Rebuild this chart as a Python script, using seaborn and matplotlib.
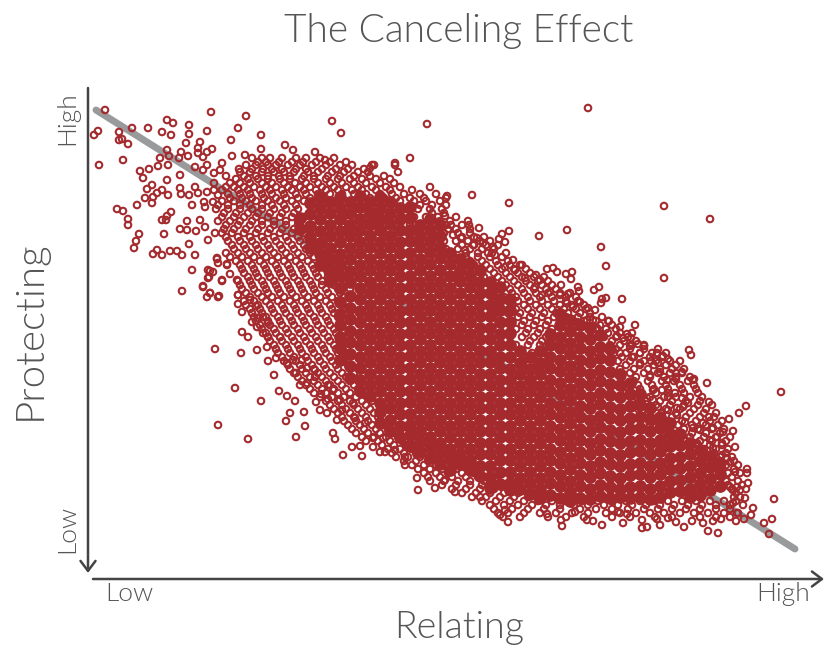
import pandas as pd
import matplotlib
matplotlib.use("Agg")
import matplotlib.pyplot as plt
import seaborn as sns

# values: x = left to right, y = rows counted down from the top
RED = "#a52a2d"
INK = "#555555"

title = "The Canceling Effect"
x_label = "Relating"
y_label = "Protecting"
low_label = "Low"
high_label = "High"

trend_x = [96, 795]
trend_y = [110, 549]

# single points that can be told apart
upper_left = [(105,110),(211,112),(246,116),(332,121),(98,131),(94,135),(119,132),(132,128),(148,128),(167,120),
    (173,123),(162,132),(171,135),(189,125),(189,134),(207,131),(238,128),(261,135),(231,140),(119,140),(122,139),
    (128,144),(99,165),(123,160),(186,143),(200,142),(198,148),(207,152),(212,149),(167,150),(181,152),(179,158),
    (188,156),(160,158),(169,156),(198,153),(203,157),(261,149),(285,145),(293,150),(315,152),(245,155),(232,156),
    (222,163),(158,166),(168,165),(149,169),(140,171),(143,178),(167,180),(180,175),(195,167),(207,165),(203,170),
    (214,173),(220,170),(226,176),(239,169),(214,183),(152,185),(147,189),(162,190),(157,193),(168,195),(180,188),
    (181,194),(189,195),(195,187),(198,193),(207,192),(214,190),(218,195),(145,198),(153,197),(152,203),(137,205),
    (192,205),(204,202),(205,207),(213,202),(117,209),(123,211),(128,219),(128,225),(171,212),(167,216),(162,220),
    (166,220),(187,221),(200,220),(180,229),(187,230),(196,231),(205,227),(164,234),(139,234),(136,241),(134,248),
    (208,240),(215,233),(189,244),(157,250),(153,254),(162,255),(170,251),(177,251),(182,255),(195,255),(192,270),
    (217,258),(218,263),(227,264),(208,270),(213,272),(209,277),(222,280),(230,274),(182,291),(203,286),(210,293),
    (219,296),(237,280),(238,295),(427,124),(374,165),(370,168),(395,163),(325,160),(341,133)]
lower_left = [(215,349),(241,353),(235,388),(261,401),(218,425),(248,439),(274,375),(257,350),(268,361),(276,358),
    (279,391),(287,396),(295,401),(290,413),(286,421),(304,412),(305,426),(296,437),(333,433),(335,439),(343,455),
    (352,447),(360,446),(362,456),(300,385),(307,383),(316,402),(320,410),(327,413),(337,420),(321,394),(328,399),
    (242,332),(248,337),(218,297),(207,297),(210,293),(203,287),(208,278),(222,281),(210,271),(217,259),(227,265),
    (238,295),(242,312),(238,304),(250,300),(256,306),(252,322),(258,318),(263,317),(257,327),(268,323),(263,333),
    (268,337),(280,337),(267,347),(287,363),(294,373),(293,360),(302,360),(307,368),(315,370),(315,377),(328,385),
    (333,390),(340,400),(342,410),(353,403),(355,418),(365,423),(373,438),(373,447),(383,438),(380,452),(385,452),
    (395,450),(407,447),(405,457),(417,455),(433,455),(405,465),(417,478),(435,488),(445,480),(418,490),(455,492),
    (480,497),(500,515),(508,522),(505,510)]
lower_right = [(547,514),(562,526),(561,520),(575,512),(587,520),(593,521),(602,525),(618,512),(623,523),(627,514),
    (642,520),(642,528),(647,527),(660,525),(657,519),(668,518),(676,522),(684,527),(692,521),(703,523),(708,531),
    (718,533),(713,521),(721,519),(736,521),(744,519),(751,515),(753,508),(745,498),(734,497),(748,483),(747,473),
    (747,469),(735,472),(764,523),(772,519),(769,534),(774,499),(781,392),(746,406),(739,413),(729,419),(709,402),
    (709,417),(703,423),(733,431),(735,447),(723,432),(730,462),(727,458),(737,487),(740,490),(733,490),(730,487),
    (733,503),(743,505),(737,513),(707,383),(693,380),(688,403),(683,407),(675,393),(682,398),(677,408),(653,390),
    (662,390),(668,397),(653,400),(647,398),(650,407),(658,407),(668,410),(677,415),(685,422),(693,428),(700,430),
    (713,428),(717,437),(710,440),(722,443),(722,455),(713,448),(707,463),(720,463),(697,443),(642,430),(650,433),
    (665,438),(672,437),(657,443),(668,448)]
upper_right = [(588,108),(447,196),(472,195),(509,203),(664,206),(710,219),(445,216),(469,225),(479,228),(451,225),
    (509,231),(502,234),(499,239),(505,242),(539,236),(567,230),(601,247),(606,266),(664,278),(547,269),(553,268),
    (557,272),(566,274),(572,272),(571,279),(561,285),(578,287),(579,291),(594,290),(599,287),(622,299),(606,298),
    (602,299),(601,303),(622,320),(635,325),(609,321),(620,327),(617,336),(623,338),(627,334),(631,338),(638,344),
    (644,346),(630,346),(689,350),(691,355),(657,353),(663,356),(668,359),(651,361),(658,363),(640,353),(640,363),
    (682,372),(676,373),(650,375),(660,372),(667,380),(694,379),(676,379),(461,238),(477,238),(483,243),(493,247),
    (495,255),(488,253),(473,245),(465,250),(453,235),(440,227),(513,260),(522,265),(505,267),(515,270),(536,275),
    (540,280),(525,278),(550,292),(560,295),(568,294),(542,295),(535,287),(580,302),(588,308),(595,310),(573,307),
    (567,303),(558,310),(587,320),(577,322),(568,318),(597,328),(603,335),(593,320),(610,347),(620,353),(632,357)]

# rows of the crowded rings on either side of the solid middle: row -> x values
crowded_rows = {
    158: [252,262,270,282,296,306,320,334,410],
    165: [246,256,268,276,288,300,312,326,340,352,372,395],
    172: [240,250,262,274,284,294,308,318,332,344,358,368,398],
    179: [236,248,258,268,280,290,302,314,326,338,350,362,376,390],
    187: [226,234,244,254,266,276,288,300,310,322,334,346,358,372,386,400,430],
    194: [228,240,250,262,272,284,296,306,318,330,342,354,366,380,392,404,420,436],
    201: [222,234,246,256,268,280,292,304,316,328,340,352,364,376,388,400,414,426,440],
    209: [216,228,240,252,262,274,286,298,346,358,370,382,394,406,418,430,442],
    217: [222,234,244,256,268,280,292,304,344,354,366,378,390,402,414,426,438,456],
    225: [226,238,250,262,274,286,298,342,352,362,374,386,398,410,422,434,446,462],
    233: [222,232,244,256,268,280,292,304,350,358,370,384,396,408,420,432,444,458,470],
    241: [228,240,252,264,276,288,300,312,324,352,420,432,444,456,468,480,490],
    249: [234,246,258,270,282,294,306,318,330,420,434,446,458,470,482,494],
    257: [230,242,254,266,278,290,302,314,326,338,430,442,454,466,478,490,502],
    265: [240,252,264,276,288,300,312,324,336,346,436,450,462,474,486,498,510,520],
    273: [244,256,268,280,292,304,316,328,340,350,442,458,470,482,494,506,518,530],
    281: [238,250,262,274,286,298,310,322,334,346,452,466,478,490,502,514,526,538,548],
    289: [242,254,266,278,290,302,314,326,338,350,472,486,498,510,522,534,546,556],
    297: [250,262,272,284,296,308,320,332,344,480,492,504,516,528,540,552,566,576],
    305: [246,258,270,282,294,306,318,330,342,488,500,512,524,536,548,560,572,584],
    313: [252,262,274,286,298,310,322,334,496,508,520,532,544,556,568,580,590],
    321: [256,268,280,292,304,316,328,340,500,512,524,536,548,560,572,584,596,608],
    329: [262,274,286,298,310,322,334,506,516,528,540,552,596,606,616],
    337: [268,280,292,304,316,328,340,510,522,534,546,556,604,616,628],
    345: [274,286,298,310,322,334,516,528,540,552,610,620,632,644],
    353: [278,290,302,314,326,338,346,520,532,544,614,626,640,652,666],
    361: [284,296,308,320,332,344,524,536,548,618,630,644,656,670,680],
    369: [290,302,314,326,338,350,528,540,552,620,634,648,660,672,684],
    377: [298,310,322,334,346,622,636,650,664,676,690],
    385: [306,318,330,342,354,624,638,652,666,680,694],
    393: [314,326,338,350,362,626,640,656,668,684,698],
    401: [326,338,350,362,372,632,646,660,672,686,700],
    409: [334,346,358,370,638,652,666,680,694,706],
    417: [342,354,366,378,644,658,672,686,700,714],
    425: [348,360,372,384,650,664,678,692,706,718],
    433: [356,368,380,392,404,664,678,692,706,720],
    441: [366,378,390,402,414,672,686,700,712,726],
    449: [388,400,412,424,436,690,704,716,728],
    457: [396,408,420,432,444,696,708,720,732],
    465: [412,424,436,448,460,702,714,726,738],
    473: [424,436,448,462,474,716,728,740],
    481: [430,444,458,470,484,496,726,738],
    489: [452,466,480,494,508,526,732,746],
    497: [472,486,500,514,528,542,556,740],
    505: [490,504,518,532,546,560,574,588,604,618,632,646,660,674,688,702,716,730],
    513: [498,508,524,540,556,572,588,606,620,636,650,664,680,694,708,724,738],
}

# the same bands, read a second time between those rows
between_rows = {
    162: [258,266,279,292,303,316,330,346],
    169: [252,263,272,282,296,306,322,336,348,364],
    176: [244,256,268,279,290,304,314,328,340,354,370,384],
    183: [230,240,250,262,272,284,295,306,318,330,342,354,366,380,394],
    190: [222,238,248,260,270,282,292,304,316,326,338,352,362,376,390,412],
    198: [230,242,252,264,276,286,298,310,322,370,384,396,410,424,446],
    205: [218,228,240,250,262,272,284,296,420,432,446],
    213: [224,236,248,258,270,282,294,432,444],
    221: [218,230,240,252,262,274,286,298,440,450,468],
    229: [224,234,246,258,270,282,294,448,456,470],
    237: [226,238,250,262,274,286,298,462,474,484],
    245: [232,244,256,268,280,292,304,316,462,474,486,498],
    253: [226,238,250,262,274,286,298,310,322,466,478,492,506],
    261: [236,248,260,272,284,296,308,320,470,482,496,508],
    269: [242,254,266,278,290,302,314,326,334,476,490,502,514,526],
    277: [248,258,270,282,294,306,318,328,338,484,498,510,522,534,544],
    285: [240,252,264,276,288,300,312,322,334,492,506,518,530,542,552],
    293: [246,258,268,280,292,304,316,328,340,500,512,524,536,548,560,570],
    301: [244,254,266,278,290,302,314,326,338,508,518,530,542,554,566,578],
    309: [250,260,272,284,296,308,320,332,516,528,540,552,564,576,586],
    317: [254,266,278,290,302,314,326,338,518,530,542,554,566,578,590,602],
    325: [260,270,282,294,306,318,330,522,534,546,600,612],
    333: [266,276,288,300,312,324,336,526,538,550,608,620,632],
    341: [270,282,294,306,318,330,342,530,542,554,612,624,636],
    349: [276,288,300,312,324,336,616,630,644,658],
    357: [282,294,306,318,330,342,622,634,650,662],
    365: [288,300,312,324,336,348,626,640,654,666,676],
    373: [296,306,318,330,342,354,630,644,658,670,682],
    381: [302,314,326,338,350,634,648,662,674,688],
    389: [310,322,334,346,358,640,654,668,682,696],
    397: [320,332,344,356,368,636,650,664,676,690,702],
    405: [330,342,354,366,642,656,670,684,698,712],
    413: [338,350,362,374,648,662,676,690,704,716],
    421: [344,356,368,380,654,668,682,696,710,722],
    429: [352,364,376,388,400,670,684,698,712,724],
    437: [362,374,386,398,410,676,690,704,716,730],
    445: [382,394,406,418,430,684,698,710,722],
    453: [392,404,416,428,440,452,692,704,714,726],
    461: [404,416,428,440,452,464,708,720,734],
    469: [418,430,442,456,468,710,722,734],
    477: [428,440,452,466,478,490,722,732],
    485: [442,456,470,482,496,514,728,742],
    493: [462,476,490,504,518,534,736],
    501: [482,496,510,524,538,552,566,582,598,612,626,640,654,668,682,696,710,724,736],
    509: [494,512,528,544,560,580,596,612,628,644,658,672,686,700,716,730],
    517: [503,520,548,566,584,612,630,655,672,700,716,730],
}

# where the rings overlap into solid colour: column -> y values
solid_columns = {
    300: [218,229],
    310: [203,214,226,237,248],
    320: [197,208,219,231,243,254,265],
    330: [202,213,225,236,248,259,270,281],
    340: [197,208,219,231,242,254,265,276,288,302,314,325,337,348,360],
    350: [202,213,225,236,248,259,271,282,296,308,319,331,342,354,366,378],
    360: [196,207,219,230,242,253,265,276,288,299,311,322,334,345,357,368,380,391],
    370: [202,213,224,236,247,259,270,282,293,305,316,328,339,351,362,374,385,396],
    380: [197,208,219,230,242,253,265,276,288,299,311,322,334,345,357,368,380,391,403,412,423],
    390: [202,213,224,236,247,259,270,282,293,305,316,328,339,351,362,374,385,397,408,420,431],
    400: [208,219,230,242,253,265,276,288,299,311,322,334,345,357,368,380,391,403,414,426,437],
    410: [207,218,230,241,253,264,276,287,299,310,322,333,345,356,368,379,391,402,414,425,435,446],
    420: [225,236,247,259,270,282,293,305,316,328,339,351,362,374,385,397,408,420,431,441,452],
    430: [219,230,241,252,264,276,287,299,310,322,333,345,356,368,379,391,402,414,425,437,447,458],
    440: [225,236,247,258,270,282,293,305,316,328,339,351,362,374,385,397,408,420,431,443,453,464],
    450: [253,264,276,288,299,311,322,334,345,357,368,380,391,403,414,426,437,449,459,470],
    460: [259,270,281,293,305,316,328,339,351,362,374,385,397,408,420,431,443,454,464],
    470: [264,276,287,299,311,322,334,345,357,368,380,391,403,414,426,437,449,460,470],
    480: [270,282,293,305,316,328,339,351,362,374,385,397,408,420,431,443,454,466,476],
    490: [282,293,305,316,328,339,351,362,374,385,397,408,420,431,443,454,466,477,488],
    500: [287,299,310,322,334,345,357,368,380,391,403,414,426,437,449,460,472,484],
    510: [299,310,322,333,345,357,369,380,391,403,414,426,437,449,460,472,483,490],
    520: [351,363,374,386,397,409,420,432,443,455,466,478,489],
    530: [357,369,380,391,403,414,426,437,449,460,472,483,494],
    540: [351,363,374,386,397,409,420,432,443,455,466,478,489,498],
    550: [334,345,357,368,380,391,403,414,426,437,449,460,472,483,495],
    560: [314,325,337,348,360,371,383,394,406,417,429,440,452,463,475,486,498],
    570: [320,331,343,354,366,377,389,400,412,423,435,446,458,469,481,492,501],
    580: [325,337,348,360,371,383,394,406,417,429,440,452,463,475,486,498],
    590: [328,339,351,362,374,385,397,408,420,431,443,454,466,477,489,499],
    600: [335,347,358,370,381,393,404,416,427,439,450,462,473,485,496],
    610: [349,360,372,384,395,407,418,430,441,453,464,476,487,498],
    620: [374,385,397,409,420,432,443,455,466,478,489,497],
    630: [383,394,406,418,429,441,452,464,475,487,498],
    640: [394,405,417,428,440,451,463,474,486,497],
    650: [408,419,431,443,454,466,477,489,499],
    660: [417,428,440,451,463,474,486,497],
    670: [423,434,446,458,469,481,492],
    680: [434,445,457,468,480,491],
    690: [443,454,466,477,489,497],
    700: [450,461,473,484,495],
    710: [456,467,479,490],
    720: [463,474,486],
}

single = upper_left + lower_left + lower_right + upper_right
crowded = [(x, y) for rows in (crowded_rows, between_rows) for y, xs in rows.items() for x in xs]
rings = pd.DataFrame(single + crowded, columns=["relating", "protecting"])
solid = pd.DataFrame([(x, y) for x, ys in solid_columns.items() for y in ys],
                     columns=["relating", "protecting"])

sns.set_theme(style="white")
plt.rcParams["font.family"] = ["Lato", "DejaVu Sans"]

fig = plt.figure(figsize=(8.3, 6.47), dpi=100)
ax = fig.add_axes([0, 0, 1, 1])

sns.lineplot(x=trend_x, y=trend_y, color="#989a9c", linewidth=5, ax=ax,
             solid_capstyle="round", zorder=1)
sns.scatterplot(data=solid, x="relating", y="protecting", s=84, color=RED,
                linewidth=0, ax=ax, zorder=2)
sns.scatterplot(data=rings, x="relating", y="protecting", s=22, facecolor="none",
                edgecolor=RED, linewidth=1.5, ax=ax, zorder=3)

ax.set_xlim(0, 830)
ax.set_ylim(647, 0)
ax.set_axis_off()

# axis arrows
arrow = dict(arrowstyle="->,head_length=0.6,head_width=0.45", color="#444444", lw=1.8,
             shrinkA=0, shrinkB=0)
ax.annotate("", xy=(88, 573), xytext=(88, 88), arrowprops=arrow)
ax.annotate("", xy=(824, 579), xytext=(93, 579), arrowprops=arrow)

ax.text(459, 31, title, ha="center", va="center", fontsize=28, fontweight=300, color=INK)
ax.text(459, 628, x_label, ha="center", va="center", fontsize=27, fontweight=300, color=INK)
ax.text(30, 330, y_label, ha="center", va="center", rotation=90, fontsize=29, fontweight=300, color=INK)
ax.text(129, 594, low_label, ha="center", va="center", fontsize=19, fontweight=300, color=INK)
ax.text(783, 594, high_label, ha="center", va="center", fontsize=19, fontweight=300, color=INK)
ax.text(67, 529, low_label, ha="center", va="center", rotation=90, fontsize=19, fontweight=300, color=INK)
ax.text(67, 118, high_label, ha="center", va="center", rotation=90, fontsize=19, fontweight=300, color=INK)

fig.savefig("out.png", dpi=100)
